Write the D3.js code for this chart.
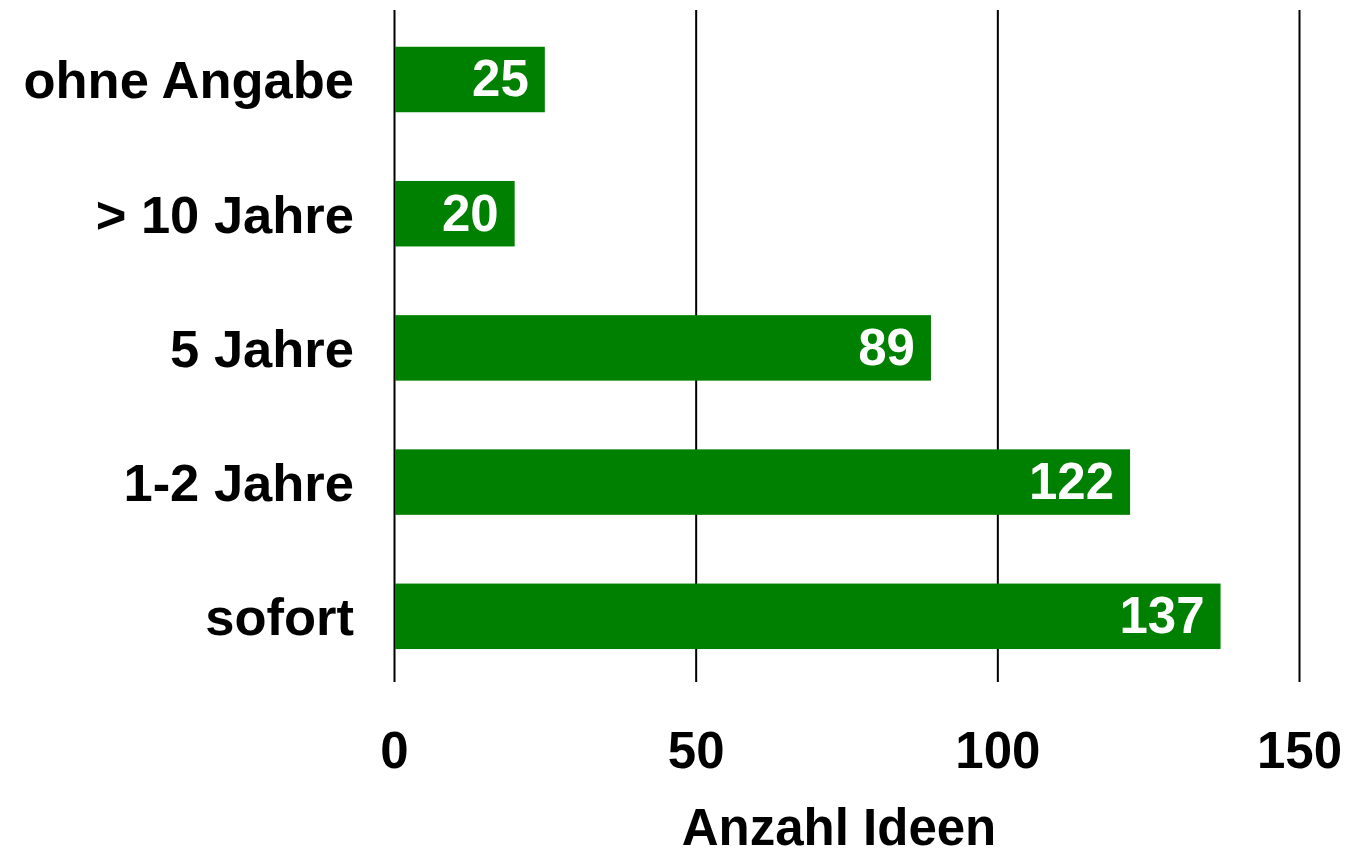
<!DOCTYPE html>
<html>
<head>
<meta charset="utf-8">
<script src="https://cdn.jsdelivr.net/npm/d3@7"></script>
<style>
  html, body { margin: 0; padding: 0; background: #fff; }
  svg { display: block; }
  text { font-family: "Liberation Sans", Arial, sans-serif; font-weight: bold; }
</style>
</head>
<body>
<svg id="chart" width="1349" height="856"></svg>
<script>
const categories = ["ohne Angabe", "> 10 Jahre", "5 Jahre", "1-2 Jahre", "sofort"];
const values = [25, 20, 89, 122, 137];
const xTicks = [0, 50, 100, 150];
const xTitle = "Anzahl Ideen";

const svg = d3.select("#chart");
const plotTop = 10, plotBottom = 682;
const x = d3.scaleLinear().domain([0, 150]).range([394, 1299]);
const y = d3.scaleBand().domain(categories).range([12.4, 683.4])
  .paddingInner(0.512).paddingOuter(0.256);

// gridlines
const grid = svg.append("g")
  .attr("transform", `translate(0,${plotBottom})`)
  .call(d3.axisBottom(x).tickValues(xTicks).tickSize(-(plotBottom - plotTop)).tickFormat(""));
grid.select(".domain").remove();
grid.selectAll(".tick line").attr("stroke", "#000").attr("stroke-width", 2);

// bars
svg.append("g").selectAll("rect")
  .data(categories.map((c, i) => ({ c, v: values[i] })))
  .join("rect")
  .attr("x", x(0) + 1)
  .attr("y", d => y(d.c))
  .attr("width", d => x(d.v) - x(0) - 1)
  .attr("height", y.bandwidth())
  .attr("fill", "#008000");

// value labels
svg.append("g").selectAll("text")
  .data(categories.map((c, i) => ({ c, v: values[i] })))
  .join("text")
  .attr("x", d => x(d.v) - 16)
  .attr("y", d => y(d.c) + y.bandwidth() / 2)
  .attr("dy", "0.33em")
  .attr("text-anchor", "end")
  .attr("fill", "#fff")
  .style("font-size", "51px")
  .text(d => d.v);

// x axis labels
const xa = svg.append("g")
  .attr("transform", `translate(0,${plotBottom})`)
  .call(d3.axisBottom(x).tickValues(xTicks).tickSize(0).tickPadding(50));
xa.select(".domain").remove();
xa.selectAll("text").attr("fill", "#000").style("font-size", "51px")
  .style("font-family", "'Liberation Sans', Arial, sans-serif").style("font-weight", "bold");

// y axis labels
const ya = svg.append("g")
  .attr("transform", "translate(354,0)")
  .call(d3.axisLeft(y).tickSize(0).tickPadding(0));
ya.select(".domain").remove();
ya.selectAll("text").attr("fill", "#000").attr("dy", "0.36em").style("font-size", "52.5px")
  .style("font-family", "'Liberation Sans', Arial, sans-serif").style("font-weight", "bold");

// x title
svg.append("text")
  .attr("x", 839)
  .attr("y", 845)
  .attr("text-anchor", "middle")
  .attr("fill", "#000")
  .style("font-size", "51px")
  .text(xTitle);
</script>
</body>
</html>
